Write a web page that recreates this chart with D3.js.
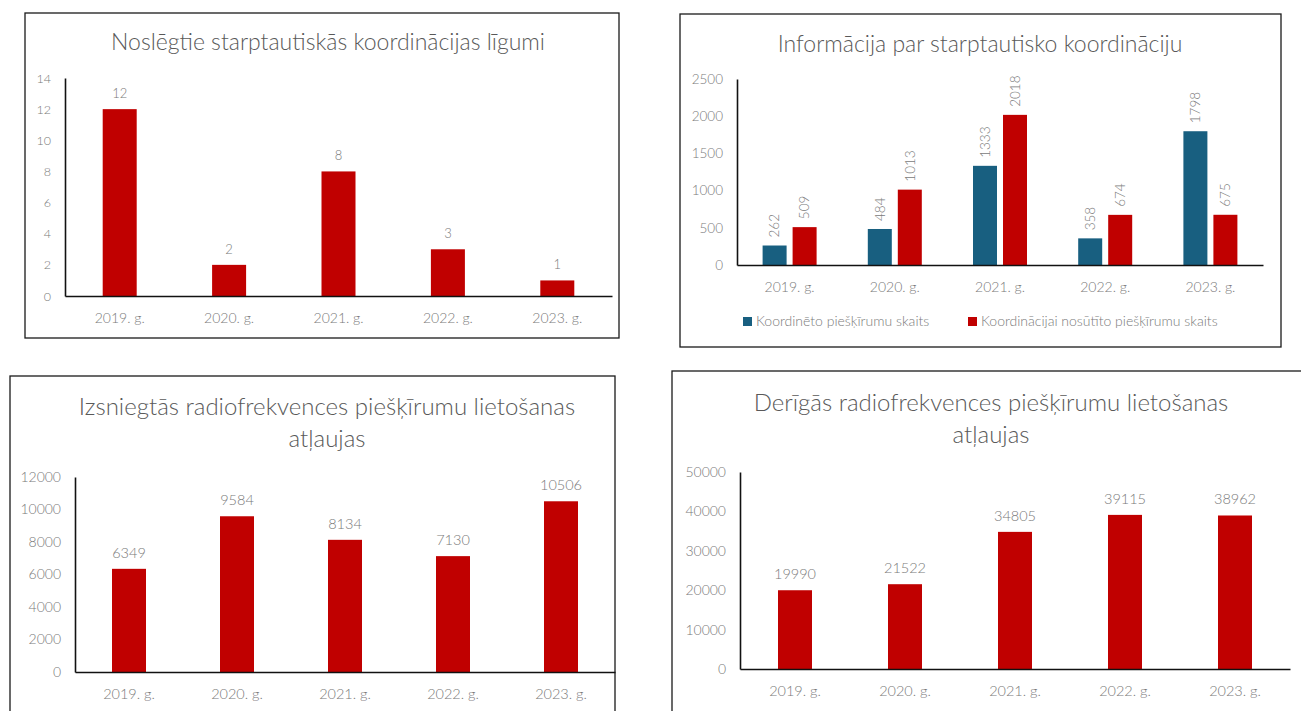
<!DOCTYPE html>
<html>
<head>
<meta charset="utf-8">
<script src="https://cdn.jsdelivr.net/npm/d3@7"></script>
<style>
body { margin: 0; background: #fff; }
svg { font-family: Lato, "Open Sans", sans-serif; }
</style>
</head>
<body>
<svg id="chart" width="1301" height="711"></svg>
<script>
// data
var years = ["2019. g.", "2020. g.", "2021. g.", "2022. g.", "2023. g."]

var ligumi = [12, 2, 8, 3, 1]
var koordineto = [262, 484, 1333, 358, 1798]
var nosutito = [509, 1013, 2018, 674, 675]
var izsniegtas = [6349, 9584, 8134, 7130, 10506]
var derigas = [19990, 21522, 34805, 39115, 38962]

var ticks1 = [0, 2, 4, 6, 8, 10, 12, 14]
var ticks2 = [0, 500, 1000, 1500, 2000, 2500]
var ticks3 = [0, 2000, 4000, 6000, 8000, 10000, 12000]
var ticks4 = [0, 10000, 20000, 30000, 40000, 50000]

var legend2 = ["Koordinēto piešķīrumu skaits", "Koordinācijai nosūtīto piešķīrumu skaits"]

var red = "#c00000"
var blue = "#185f80"
var titleCol = "#595959"
var labelCol = "#7a7a7a"

var svg = d3.select("#chart")

// one framed bar chart
var panel = function(o) {
  var g = svg.append("g")

  g.append("rect")
    .attr("x", o.box[0]).attr("y", o.box[1])
    .attr("width", o.box[2] - o.box[0]).attr("height", o.box[3] - o.box[1])
    .attr("fill", "#fff").attr("stroke", "#1a1a1a").attr("stroke-width", 1.3)

  g.selectAll(".title")
    .data(o.title)
    .enter().append("text")
    .attr("x", o.titleX)
    .attr("y", (d, i) => o.titleY + i * 32)
    .attr("text-anchor", "middle")
    .attr("fill", titleCol)
    .attr("font-size", o.titleSize)
    .attr("font-weight", 300)
    .text(d => d)

  var x = d3.scaleBand().domain(years).range([o.x0, o.x1])
  var y = d3.scaleLinear().domain([0, o.ticks[o.ticks.length - 1]]).range([o.y0, o.yTop])

  // y axis
  var ya = g.append("g")
    .attr("transform", "translate(" + o.x0 + ",0)")
    .call(d3.axisLeft(y).tickValues(o.ticks).tickSize(0).tickPadding(14).tickFormat(d3.format("d")))
    .attr("font-family", null)
  ya.select(".domain").attr("stroke", "#111").attr("stroke-width", 1.6)
  ya.selectAll("text").attr("fill", labelCol).attr("font-size", o.fs).attr("font-weight", 300)

  // bars
  o.series.forEach(function(s, si) {
    var off = o.series.length == 1 ? -o.bw / 2 : (si == 0 ? -o.bw - o.gap / 2 : o.gap / 2)
    g.selectAll(".bar" + si)
      .data(s.values)
      .enter().append("rect")
      .attr("x", (d, i) => x(years[i]) + x.bandwidth() / 2 + off)
      .attr("y", d => y(d))
      .attr("width", o.bw)
      .attr("height", d => o.y0 - y(d))
      .attr("fill", s.color)

    if (o.rotated) {
      g.selectAll(".lab" + si)
        .data(s.values)
        .enter().append("text")
        .attr("transform", (d, i) => "translate(" + (x(years[i]) + x.bandwidth() / 2 + off + o.bw / 2) + "," + (y(d) - 8) + ") rotate(-90)")
        .attr("dy", "0.35em")
        .attr("fill", labelCol)
        .attr("font-size", o.lfs)
        .attr("font-weight", 300)
        .text(d => d)
    } else {
      g.selectAll(".lab" + si)
        .data(s.values)
        .enter().append("text")
        .attr("x", (d, i) => x(years[i]) + x.bandwidth() / 2)
        .attr("y", d => y(d) - 11)
        .attr("text-anchor", "middle")
        .attr("fill", labelCol)
        .attr("font-size", o.lfs)
        .attr("font-weight", 300)
        .text(d => d)
    }
  })

  // x axis
  var xa = g.append("g")
    .attr("transform", "translate(0," + o.y0 + ")")
    .call(d3.axisBottom(x).tickSize(0).tickPadding(17))
    .attr("font-family", null)
  xa.select(".domain").attr("stroke", "#111").attr("stroke-width", 1.6)
  xa.selectAll("text").attr("fill", labelCol).attr("font-size", o.xfs).attr("font-weight", 300)

  return g
}

panel({
  box: [25, 13, 619, 338],
  title: ["Noslēgtie starptautiskās koordinācijas līgumi"],
  titleX: 328, titleY: 50, titleSize: 23,
  x0: 65, x1: 612, y0: 296, yTop: 78,
  ticks: ticks1, fs: 12.5, lfs: 13, xfs: 14,
  bw: 34, series: [{ values: ligumi, color: red }]
})

var p2 = panel({
  box: [680, 14, 1281, 347],
  title: ["Informācija par starptautisko koordināciju"],
  titleX: 980, titleY: 52, titleSize: 23,
  x0: 737, x1: 1263, y0: 265, yTop: 79,
  ticks: ticks2, fs: 13.5, lfs: 13.5, xfs: 14,
  bw: 24, gap: 6, rotated: true,
  series: [{ values: koordineto, color: blue }, { values: nosutito, color: red }]
})

// legend of the second chart
var legX = [743, 968]
var leg = p2.selectAll(".leg")
  .data(legend2)
  .enter().append("g")
  .attr("transform", (d, i) => "translate(" + legX[i] + ",317)")
leg.append("rect").attr("width", 9).attr("height", 9).attr("fill", (d, i) => i == 0 ? blue : red)
leg.append("text").attr("x", 13).attr("y", 9).attr("font-size", 14).attr("font-weight", 300)
  .attr("fill", labelCol).text(d => d)

panel({
  box: [10, 376, 615, 740],
  title: ["Izsniegtās radiofrekvences piešķīrumu lietošanas", "atļaujas"],
  titleX: 327, titleY: 415, titleSize: 24,
  x0: 75, x1: 615, y0: 672, yTop: 477,
  ticks: ticks3, fs: 14, lfs: 14.5, xfs: 14.5,
  bw: 34, series: [{ values: izsniegtas, color: red }]
})

panel({
  box: [672, 371, 1320, 740],
  title: ["Derīgās radiofrekvences piešķīrumu lietošanas", "atļaujas"],
  titleX: 991, titleY: 411, titleSize: 24,
  x0: 740, x1: 1290, y0: 669, yTop: 472,
  ticks: ticks4, fs: 14, lfs: 14.5, xfs: 14.5,
  bw: 34, series: [{ values: derigas, color: red }]
})
</script>
</body>
</html>
